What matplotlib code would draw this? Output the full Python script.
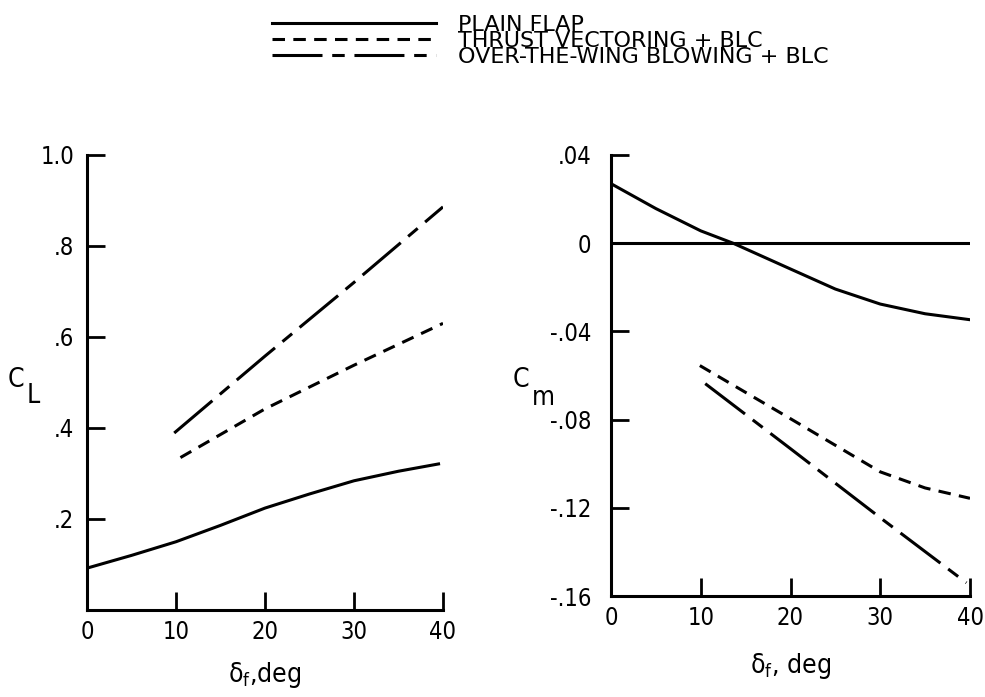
import matplotlib
matplotlib.use("Agg")
import matplotlib.pyplot as plt

plt.rcParams['font.family'] = ['DejaVu Sans']
plt.rcParams['font.stretch'] = 'condensed'
plt.rcParams['mathtext.fontset'] = 'dejavusans'
plt.rcParams['lines.scale_dashes'] = False

# ---- data ----
labels = ['PLAIN FLAP', 'THRUST VECTORING + BLC', 'OVER-THE-WING BLOWING + BLC']

# Lift coefficient C_L vs flap deflection
cl_plain_x = [0, 5, 10, 15, 20, 25, 30, 35, 39.5]
cl_plain_y = [0.092, 0.120, 0.150, 0.186, 0.224, 0.255, 0.284, 0.305, 0.321]
cl_tv_x = [10.5, 20, 30, 40]
cl_tv_y = [0.335, 0.442, 0.538, 0.630]
cl_otw_x = [9.8, 20, 30, 40]
cl_otw_y = [0.389, 0.558, 0.720, 0.886]

# Pitching moment C_m vs flap deflection
cm_plain_x = [0, 5, 10, 13.6, 20, 25, 30, 35, 40]
cm_plain_y = [0.027, 0.0157, 0.0056, 0.0, -0.0117, -0.0208, -0.0276, -0.032, -0.0347]
cm_tv_x = [9.9, 20, 30, 35, 40]
cm_tv_y = [-0.0555, -0.0796, -0.1037, -0.111, -0.1157]
cm_otw_x = [10.5, 20, 30, 39.6]
cm_otw_y = [-0.0637, -0.0932, -0.1245, -0.154]

cl_ticks = [0.2, 0.4, 0.6, 0.8, 1.0]
cl_ticklabels = ['.2', '.4', '.6', '.8', '1.0']
cm_ticks = [0.04, 0.0, -0.04, -0.08, -0.12, -0.16]
cm_ticklabels = ['.04', '0', '-.04', '-.08', '-.12', '-.16']
x_ticks = [0, 10, 20, 30, 40]
x_ticklabels = ['0', '10', '20', '30', '40']

styles = [dict(linestyle='-'),
          dict(linestyle=(0, (9, 6))),
          dict(linestyle=(0, (36, 7, 9, 7)))]
LW = 2.2

fig = plt.figure(figsize=(9.85, 6.97), dpi=100)
W, H = 985, 697
axL = fig.add_axes([87 / W, 1 - 610 / H, (443 - 87) / W, (610 - 155) / H])
axR = fig.add_axes([611 / W, 1 - 596 / H, (970 - 611) / W, (596 - 155) / H])

for ax in (axL, axR):
    for s in ('top', 'right'):
        ax.spines[s].set_visible(False)
    for s in ('left', 'bottom'):
        ax.spines[s].set_linewidth(2.2)
    ax.tick_params(direction='in', length=13, width=2.0, labelsize=17, color='black')
    ax.set_xlim(0, 40)
    ax.set_xticks(x_ticks)
    ax.set_xticklabels(x_ticklabels)
    ax.tick_params(axis='x', pad=7)
axL.tick_params(axis='y', pad=9)
axR.tick_params(axis='y', pad=14)

# Left: C_L
h1, = axL.plot(cl_plain_x, cl_plain_y, color='black', lw=LW, **styles[0])
h2, = axL.plot(cl_tv_x, cl_tv_y, color='black', lw=LW, **styles[1])
h3, = axL.plot(cl_otw_x, cl_otw_y, color='black', lw=LW, **styles[2])
axL.set_ylim(0, 1.0)
axL.set_yticks(cl_ticks)
axL.set_yticklabels(cl_ticklabels)
axL.set_xlabel(r'$\mathregular{\delta_f}$,deg', fontsize=19, labelpad=12)
# axis title C_L (subscript drawn full size, lowered, as in the reference)
axL.text((16 - 87) / 356, (610 - 387) / 455, 'C', transform=axL.transAxes,
         fontsize=19, ha='center', va='baseline')
axL.text((33 - 87) / 356, (610 - 403) / 455, 'L', transform=axL.transAxes,
         fontsize=19, ha='center', va='baseline')

# Right: C_m
axR.axhline(0, color='black', lw=LW)
axR.plot(cm_plain_x, cm_plain_y, color='black', lw=LW, **styles[0])
axR.plot(cm_tv_x, cm_tv_y, color='black', lw=LW, **styles[1])
axR.plot(cm_otw_x, cm_otw_y, color='black', lw=LW, **styles[2])
axR.set_ylim(-0.16, 0.04)
axR.set_yticks(cm_ticks)
axR.set_yticklabels(cm_ticklabels)
axR.set_xlabel(r'$\mathregular{\delta_f}$, deg', fontsize=19, labelpad=15)
axR.text((521 - 611) / 359, (596 - 387) / 441, 'C', transform=axR.transAxes,
         fontsize=19, ha='center', va='baseline')
axR.text((543 - 611) / 359, (596 - 405) / 441, 'm', transform=axR.transAxes,
         fontsize=19, ha='center', va='baseline')

fig.legend([h1, h2, h3], labels, loc='upper left', bbox_to_anchor=(272 / W, 1 - 15 / H),
           frameon=False, prop={'size': 16, 'stretch': 'normal'},
           handlelength=7.4, handletextpad=0.95, borderaxespad=0,
           labelspacing=-0.18, borderpad=0)

fig.savefig('out.png', dpi=100)
